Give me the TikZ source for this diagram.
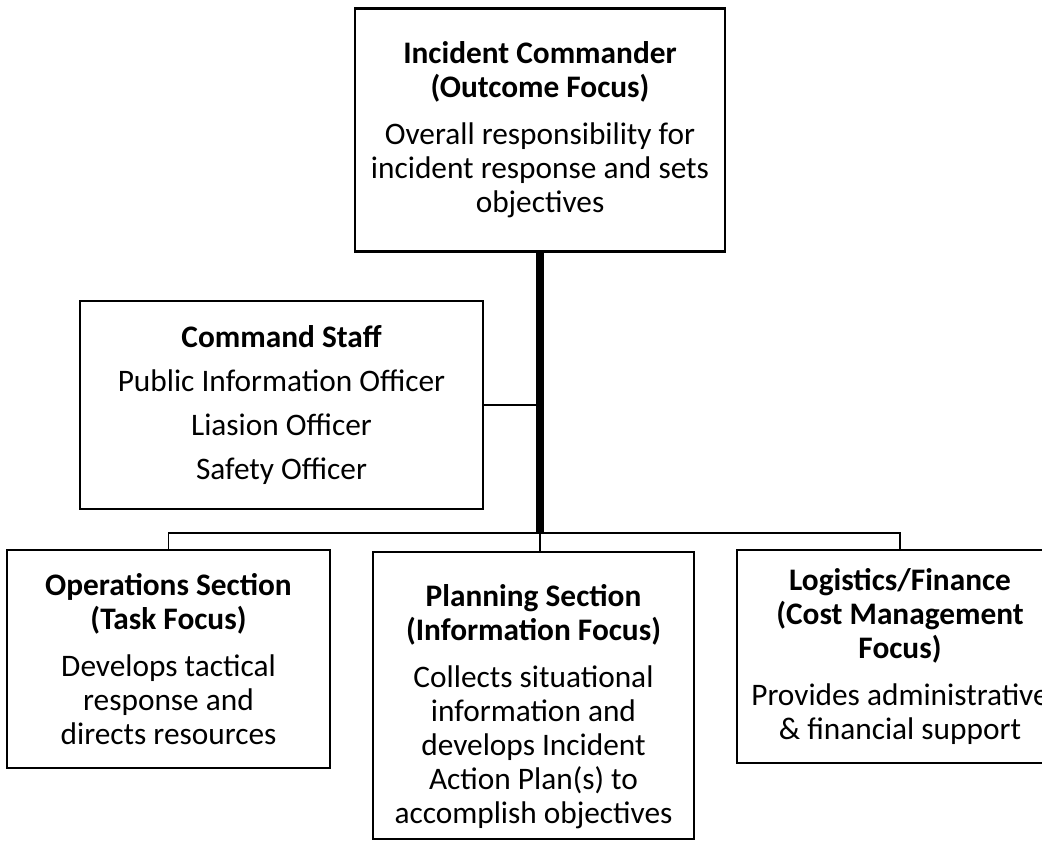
\documentclass[tikz,border=0pt]{standalone}
\usepackage{fontspec}
\setmainfont{Carlito}
\begin{document}
\begin{tikzpicture}[x=0.75pt, y=-0.75pt,
    box/.style={draw, line width=1.6pt, rectangle, align=center, inner sep=0pt,
        font=\fontsize{23.5}{25.5}\selectfont},
    link/.style={line width=1.3pt},
    trunk/.style={line width=6pt}]
    \useasboundingbox (0,0) rectangle (1042,841);
    \fill[white] (0,0) rectangle (1042,841);
    % Nodes
    \node[box, minimum width=277.5pt, minimum height=182.25pt] (ic) at (540,130)
        {\textbf{Incident Commander}\\\textbf{(Outcome Focus)}\\[10pt]Overall responsibility for\\incident response and sets\\objectives};
    \node[box, minimum width=302.25pt, minimum height=156pt] (cs) at (281.5,405)
        {\textbf{Command Staff}\\[7.5pt]Public Information Officer\\[7.5pt]Liasion Officer\\[7.5pt]Safety Officer};
    \node[box, minimum width=242.25pt, minimum height=163.5pt] (ops) at (168.5,659)
        {\textbf{Operations Section}\\\textbf{(Task Focus)}\\[10pt]Develops tactical\\response and\\directs resources};
    \node[box, minimum width=240.75pt, minimum height=215.25pt] (plan) at (533.5,695.5)
        {\rule{0pt}{33pt}\textbf{Planning Section}\\\textbf{(Information Focus)}\\[10pt]Collects situational\\information and\\develops Incident\\Action Plan(s) to\\accomplish objectives};
    \node[box, minimum width=244.5pt, minimum height=159.75pt] (log) at (900,656.5)
        {\textbf{Logistics/Finance}\\\textbf{(Cost Management}\\\textbf{Focus)}\\[10pt]Provides administrative\\\& financial support};

    % Bus points
    \coordinate (busM) at (540,533);
    \coordinate (busL) at (ops.north |- busM);
    \coordinate (busR) at (log.north |- busM);
    \coordinate (csJ) at (cs.east -| busM);

    % Edges
    \draw[trunk] (ic.south) -- (busM);
    \draw[link] (cs.east) -- (csJ);
    \draw[link] (ops.north) -- (busL) -- (busR) -- (log.north);
    \draw[link] (busM) -- (plan.north -| busM);
\end{tikzpicture}
\end{document}
